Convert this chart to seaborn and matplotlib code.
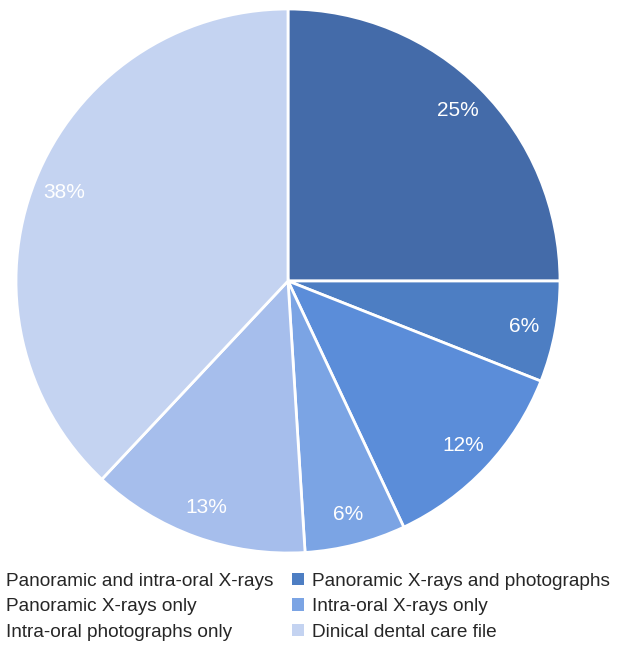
import matplotlib
matplotlib.use("Agg")
import matplotlib.pyplot as plt
import seaborn as sns
from matplotlib.patches import Patch

sns.set_style("white")
plt.rcParams['font.family'] = ['Liberation Sans', 'DejaVu Sans']

categories = ["Panoramic and intra-oral X-rays", "Panoramic X-rays and photographs",
              "Panoramic X-rays only", "Intra-oral X-rays only",
              "Intra-oral photographs only", "Dinical dental care file"]
values = [25, 6, 12, 6, 13, 38]
colors = ["#446BA9", "#4D7EC3", "#5B8DD9", "#7BA4E4", "#A6BEEC", "#C4D3F1"]

fig = plt.figure(figsize=(6.28, 6.46), dpi=100)
ax = fig.add_axes([16/628, (646-281-272)/646, 544/628, 544/646])
wedges, texts, autotexts = ax.pie(values, colors=colors, startangle=90, counterclock=False,
       autopct=lambda p: f"{p:.0f}%", pctdistance=0.885,
       wedgeprops=dict(edgecolor="white", linewidth=2),
       textprops=dict(color="white", fontsize=15))
ax.set_xlim(-1, 1)
ax.set_ylim(-1, 1)
ax.set_aspect("equal")

# row-wise order in legend: reorder for column-major fill
order = [0, 2, 4, 1, 3, 5]
handles = [Patch(facecolor=colors[i], edgecolor="none") for i in order]
labels = [categories[i] for i in order]
fig.legend(handles, labels, loc="upper left", bbox_to_anchor=(-0.05, 0.14), ncol=2,
           frameon=False, fontsize=13.7, handlelength=0.6, handleheight=0.6,
           handletextpad=0.45, columnspacing=1.0, labelspacing=0.45)

fig.savefig("out.png", dpi=100)
